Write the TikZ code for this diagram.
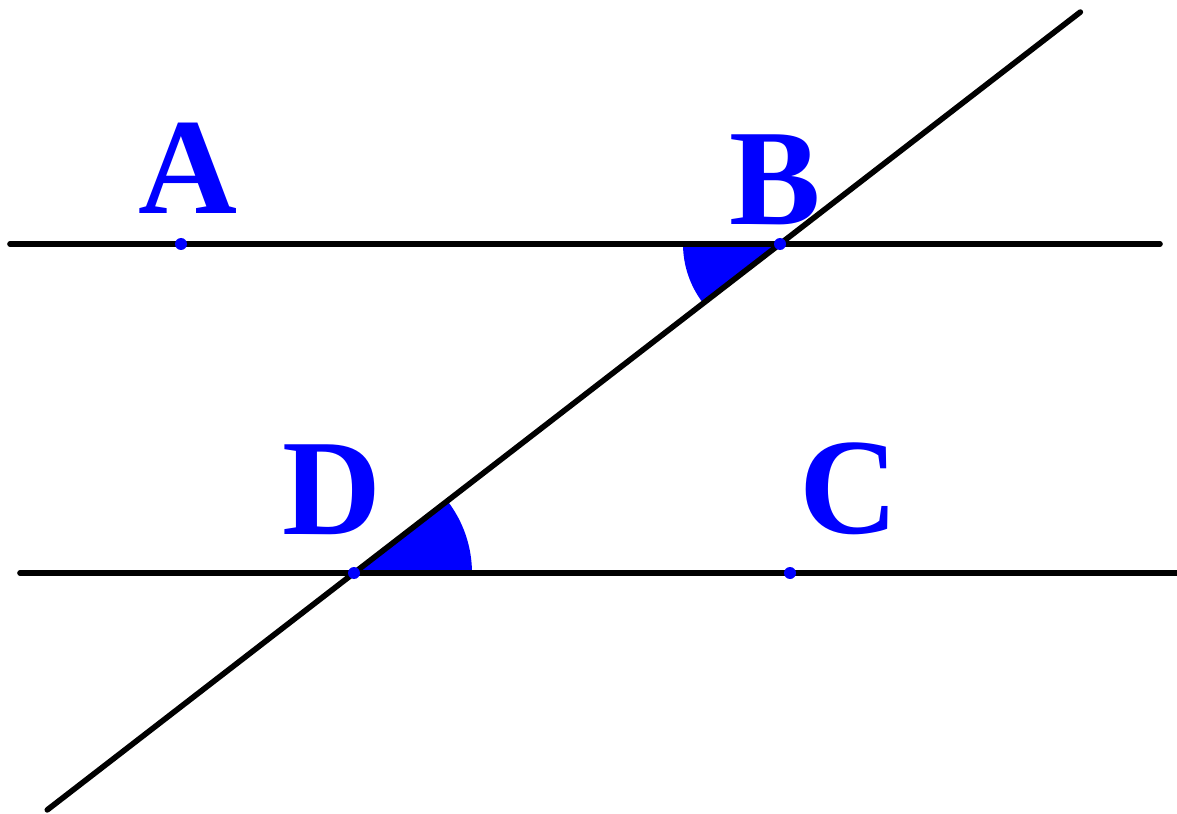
\documentclass[tikz,border=0pt]{standalone}
\usepackage{fontspec}
\setmainfont{Liberation Serif}
\usepackage{tikz}
\usetikzlibrary{calc}
\definecolor{ptblue}{HTML}{0000FF}
\definecolor{ink}{HTML}{000000}
\tikzset{
  ln/.style={draw=ink, line width=3.2pt, line cap=round},
  pt/.style={circle, fill=ptblue, inner sep=0pt, minimum size=0.24cm},
  lbl/.style={text=ptblue, font=\fontsize{78}{78}\selectfont\bfseries, inner sep=0pt},
  ang/.style={fill=ptblue, draw=none},
}
\begin{document}
\begin{tikzpicture}[x=0.02cm, y=-0.02cm]
  \useasboundingbox (0,0) rectangle (1177,814);
  % points on the two parallels
  \coordinate (A) at (181,244);
  \coordinate (B) at (780,244);
  \coordinate (D) at (354,573);
  \coordinate (C) at (790,573);
  % line ends
  \coordinate (ab1) at (10,244);
  \coordinate (ab2) at (1160,244);
  \coordinate (dc1) at (20,573);
  \coordinate (dc2) at (1177,573);
  \coordinate (t1) at ($(D)!-0.72!(B)$);
  \coordinate (t2) at ($(B)!-0.705!(D)$);
  % angles (y axis points down)
  \fill[ang] (B) -- ++(180:97) arc[start angle=180, end angle=142.3, radius=97] -- cycle;
  \fill[ang] (D) -- ++(0:118) arc[start angle=0, end angle=-37.7, radius=118] -- cycle;
  \draw[ln] (ab1) -- (ab2);
  \draw[ln] (dc1) -- (dc2);
  \draw[ln] (t1) -- (t2);
  \node[pt] (pA) at (A) {};
  \node[pt] (pB) at (B) {};
  \node[pt] (pD) at (D) {};
  \node[pt] (pC) at (C) {};
  \node[lbl] (lA) at (188,168) {A};
  \node[lbl] (lB) at (775,180) {B};
  \node[lbl] (lD) at (332,490) {D};
  \node[lbl] (lC) at (849,489) {C};
\end{tikzpicture}
\end{document}
